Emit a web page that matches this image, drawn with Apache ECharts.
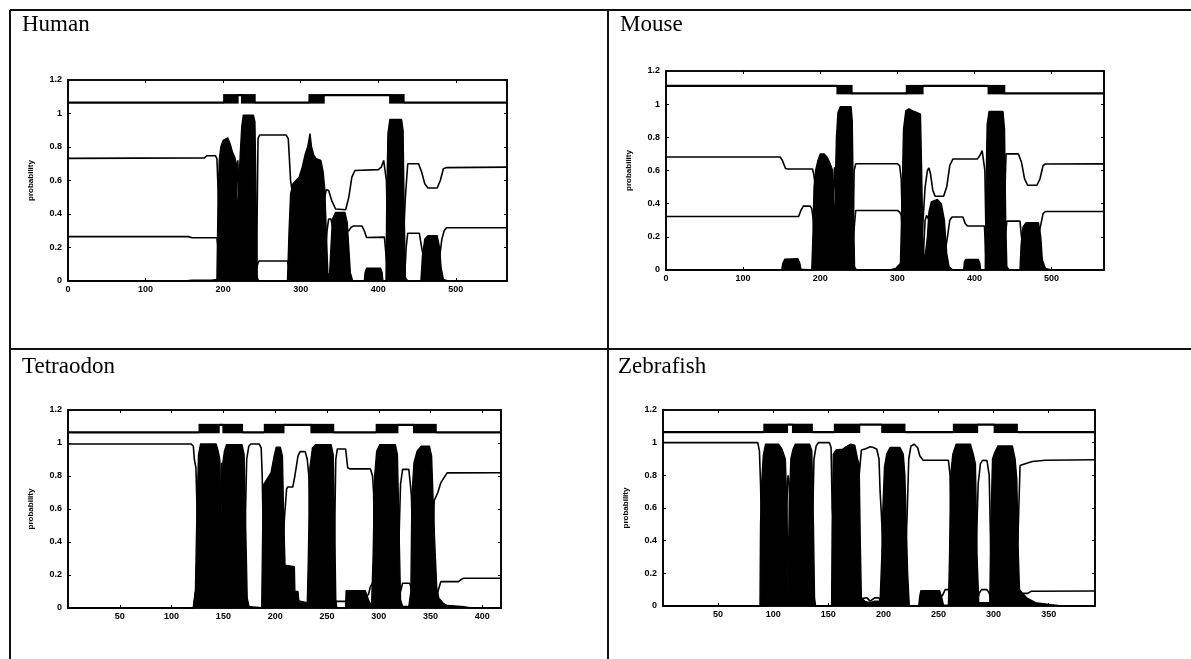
<!DOCTYPE html>
<html>
<head>
<meta charset="utf-8">
<title>Transmembrane topology prediction</title>
<script src="https://cdn.jsdelivr.net/npm/echarts@6/dist/echarts.min.js"></script>
<style>
  html, body { margin: 0; padding: 0; background: #fff; }
  #chart { width: 1191px; height: 659px; }
</style>
</head>
<body>
<div id="chart"></div>
<script>
// ---- Data: residue position vs. posterior probability ----
// Topology track levels (y values of the inside / outside lines above the plot)
const BAND_LO = 1.065;
const BAND_HI = 1.11;
const Y_MAX = 1.2;
const Y_STEP = 0.2;

const panelNames = ['Human', 'Mouse', 'Tetraodon', 'Zebrafish'];
const seqLengths = [566, 568, 418, 392];
const xSteps = [100, 100, 50, 50];

// Human
const humanTM = [[0,0],[150,0],[160,0.005],[185,0.005],[192,0.01],[193.5,0.5],[195,0.72],[197,0.8],[200,0.84],[206,0.855],[209,0.82],[212,0.77],[215,0.74],[217,0.7],[218.5,0.4],[219.5,0.38],[220.5,0.6],[222,0.75],[224,0.92],[226,0.99],[239,0.99],[241,0.95],[242.5,0.5],[244,0.02],[246,0],[283,0],[285,0.3],[287,0.52],[290,0.58],[294,0.6],[298,0.62],[302,0.68],[306,0.76],[309,0.8],[312,0.88],[314,0.8],[317,0.75],[320,0.73],[326,0.72],[329,0.65],[331,0.55],[333,0.3],[335,0.05],[337,0.02],[339,0.2],[341,0.37],[345,0.41],[357,0.41],[360,0.35],[362,0.2],[364,0.05],[367,0],[382,0],[383,0.05],[385,0.076],[403,0.076],[405,0.05],[406,0],[410,0],[411,0.5],[412.5,0.88],[415,0.965],[430,0.965],[432,0.9],[433.5,0.4],[435,0.02],[438,0],[455,0],[457,0.15],[460,0.25],[464,0.27],[476,0.27],[479,0.2],[481,0.08],[484,0.01],[490,0],[566,0]];
const humanInside = [[0,0.732],[176,0.735],[179,0.748],[190,0.748],[192,0.73],[193.5,0.55],[196,0.3],[205,0.15],[215,0.3],[219,0.72],[222,0.3],[235,0.01],[243,0.05],[245,0.85],[247,0.872],[281,0.872],[284,0.85],[287,0.6],[290,0.5],[295,0.3],[310,0.1],[325,0.3],[331,0.5],[333,0.545],[336,0.54],[340,0.48],[345,0.43],[358,0.425],[362,0.5],[366,0.62],[370,0.66],[400,0.665],[404,0.68],[407,0.72],[409,0.71],[410.5,0.6],[413,0.1],[430,0.02],[435,0.5],[438,0.70],[452,0.70],[456,0.65],[460,0.58],[464,0.555],[476,0.555],[480,0.6],[484,0.67],[488,0.677],[566,0.68]];
const humanOutside = [[0,0.265],[155,0.265],[160,0.258],[192,0.258],[193.5,0.2],[196,0.05],[200,0.01],[240,0.01],[243,0.08],[246,0.119],[283,0.119],[285,0.08],[289,0.02],[330,0.05],[334,0.3],[336,0.37],[339,0.37],[342,0.3],[362,0.3],[365,0.32],[368,0.328],[379,0.328],[382,0.3],[385,0.26],[408,0.262],[410,0.27],[411,0.1],[413,0.02],[434,0.02],[436,0.2],[438,0.285],[453,0.285],[456,0.2],[460,0.1],[478,0.1],[482,0.25],[485,0.3],[488,0.318],[566,0.318]];
const humanTopo = [['lo',0,200],['tm',200,220],['hi',220,223],['tm',223,242],['lo',242,310],['tm',310,331],['hi',331,414],['tm',414,434],['lo',434,566]];

// Mouse
const mouseTM = [[0,0],[150,0],[151.5,0.04],[154,0.065],[171,0.068],[173.5,0.04],[175,0.005],[189,0],[190.5,0.2],[192,0.5],[194,0.6],[197,0.66],[200,0.7],[205,0.70],[209,0.68],[213,0.64],[216,0.6],[217.5,0.35],[218.5,0.22],[219.5,0.5],[221,0.8],[223,0.95],[226,0.985],[240,0.985],[241.5,0.9],[243,0.4],[244.5,0.02],[247,0],[290,0],[298,0.01],[304,0.04],[306,0.4],[308,0.85],[311,0.96],[315,0.972],[320,0.96],[325,0.95],[330,0.94],[331.5,0.6],[333,0.2],[335,0.04],[337,0.03],[339,0.2],[341,0.35],[344,0.41],[352,0.425],[357,0.4],[361,0.3],[364,0.1],[367,0.02],[372,0],[386,0],[387,0.05],[389,0.064],[405,0.064],[407,0.04],[408,0],[414,0],[415,0.5],[416.5,0.88],[419,0.956],[437,0.956],[439,0.85],[440.5,0.3],[442,0.02],[445,0],[459,0],[460.5,0.15],[463,0.26],[467,0.285],[483,0.285],[486,0.2],[488,0.06],[492,0.01],[500,0],[568,0]];
const mouseInside = [[0,0.681],[148,0.681],[151,0.66],[155,0.612],[158,0.609],[190,0.609],[191.5,0.58],[193,0.53],[196,0.3],[200,0.25],[215,0.3],[218.5,0.62],[221,0.3],[235,0.01],[242,0.02],[244,0.6],[246,0.641],[300,0.641],[303,0.63],[305,0.55],[307,0.2],[320,0.02],[332,0.2],[336,0.5],[339,0.6],[341,0.615],[343,0.58],[346,0.48],[349,0.445],[360,0.445],[364,0.5],[368,0.63],[372,0.669],[404,0.67],[407,0.69],[410,0.72],[412,0.71],[413.5,0.6],[415,0.2],[430,0.02],[439,0.4],[441,0.70],[457,0.70],[461,0.65],[465,0.55],[469,0.511],[481,0.511],[485,0.55],[489,0.63],[492,0.639],[568,0.64]];
const mouseOutside = [[0,0.323],[172,0.323],[175,0.36],[178,0.385],[187,0.385],[189,0.37],[191,0.3],[194,0.1],[200,0.02],[240,0.02],[243,0.2],[246,0.359],[300,0.359],[303,0.35],[305,0.33],[307,0.2],[311,0.02],[333,0.02],[336,0.3],[338,0.33],[341,0.3],[346,0.1],[360,0.05],[365,0.2],[368,0.3],[371,0.32],[385,0.32],[388,0.28],[391,0.265],[413,0.265],[414.5,0.1],[416,0.02],[438,0.02],[440,0.2],[442,0.295],[459,0.295],[461,0.2],[465,0.1],[480,0.1],[485,0.25],[489,0.34],[492,0.353],[568,0.353]];
const mouseTopo = [['hi',0,221],['tm',221,242],['lo',242,311],['tm',311,334],['hi',334,417],['tm',417,440],['lo',440,568]];

// Tetraodon
const tetraTM = [[0,0],[121,0],[122,0.05],[123,0.1],[124.5,0.6],[126,0.93],[128,0.994],[143,0.994],[145,0.95],[146.5,0.9],[147.5,0.5],[148,0.12],[148.5,0.5],[149.5,0.88],[151,0.95],[153,0.99],[168,0.99],[170,0.93],[171.5,0.5],[173,0.06],[175,0],[187,0],[188,0.5],[189,0.75],[192,0.78],[196,0.82],[199,0.92],[201,0.975],[205,0.975],[207,0.92],[208,0.6],[209.5,0.26],[211,0.25],[218.5,0.25],[219,0.1],[222,0.1],[223,0.03],[231,0.03],[232,0.3],[233.5,0.85],[236,0.97],[239,0.99],[254,0.99],[256,0.93],[257.5,0.5],[258.5,0.05],[259.5,0],[268,0],[268.5,0.105],[287,0.105],[290,0.05],[293,0.01],[294.5,0.3],[296,0.8],[298,0.95],[301,0.99],[316,0.99],[318,0.93],[319.5,0.5],[321,0.05],[323,0.01],[329,0.01],[331,0.1],[332,0.68],[334,0.88],[337,0.95],[341,0.98],[349,0.98],[351,0.92],[352.5,0.65],[354,0.4],[356,0.12],[358,0.06],[362,0.03],[366,0.015],[380,0.01],[390,0],[418,0]];
const tetraInside = [[0,0.994],[119,0.994],[121,0.98],[122,0.9],[123.5,0.85],[125,0.5],[135,0.01],[146,0.2],[148,0.88],[150,0.3],[160,0.01],[170,0.2],[172.5,0.9],[174.5,0.98],[176.5,0.994],[184.5,0.994],[186.5,0.97],[187.5,0.8],[189,0.25],[200,0.05],[207,0.3],[209,0.55],[211,0.72],[212,0.733],[217,0.733],[219,0.8],[222,0.92],[224,0.948],[229,0.948],[231,0.9],[232.5,0.8],[234,0.3],[250,0.01],[257,0.3],[258.5,0.9],[260,0.964],[268,0.964],[270,0.85],[272,0.843],[292,0.843],[294,0.8],[295,0.7],[296,0.3],[310,0.01],[319,0.3],[321,0.75],[323,0.84],[329,0.84],[330.5,0.75],[331.5,0.68],[333,0.3],[345,0.01],[352,0.3],[353.5,0.65],[357,0.7],[360,0.76],[363,0.79],[366,0.819],[418,0.82]];
const tetraOutside = [[0,0],[121,0],[123,0.1],[130,0.02],[146,0.05],[148,0.12],[150,0.05],[170,0.01],[190,0],[205,0.01],[220,0.05],[224,0.04],[232,0.03],[250,0.02],[257,0.03],[259,0.04],[268,0.04],[270,0.03],[290,0.08],[292,0.13],[294,0.15],[296,0.1],[300,0.02],[318,0.02],[321,0.1],[323,0.15],[330,0.15],[332,0.1],[335,0.02],[355,0.05],[358,0.12],[360,0.16],[377,0.16],[380,0.175],[382,0.18],[418,0.18]];
const tetraTopo = [['lo',0,126],['tm',126,146.5],['hi',146.5,149],['tm',149,169],['lo',169,189],['tm',189,209],['hi',209,234],['tm',234,257],['lo',257,297],['tm',297,319],['hi',319,333],['tm',333,356],['lo',356,418]];

// Zebrafish
const zebraTM = [[0,0],[88,0],[88.5,0.5],[89.5,0.75],[91,0.92],[93,0.99],[105,0.99],[108,0.96],[111,0.9],[112.5,0.6],[113.5,0.1],[114.5,0.6],[116,0.9],[118,0.96],[120,0.99],[133,0.99],[135,0.95],[136.5,0.5],[137.5,0.05],[138.5,0],[153,0],[153.5,0.5],[154.5,0.93],[157,0.955],[163,0.96],[166,0.975],[170,0.99],[174,0.985],[176.5,0.9],[178,0.87],[179,0.4],[180,0.05],[183,0.03],[188,0.02],[192,0.03],[197,0.03],[198.5,0.3],[199.5,0.6],[201,0.85],[203,0.93],[206,0.97],[215,0.97],[218,0.93],[219.5,0.8],[220.5,0.55],[222,0.2],[223.5,0],[232,0],[233,0.06],[234,0.094],[251,0.094],[253,0.05],[254.5,0.005],[259,0.005],[260,0.3],[261,0.8],[263,0.93],[266,0.99],[279,0.99],[281.5,0.93],[283.5,0.87],[285,0.3],[286.5,0.02],[296.5,0.02],[297.5,0.5],[299,0.9],[301,0.94],[304,0.98],[317,0.98],[319.5,0.9],[321,0.78],[322.5,0.3],[323.5,0.1],[326,0.08],[330,0.05],[338,0.02],[350,0.01],[362,0],[392,0]];
const zebraInside = [[0,1.0],[86,1.0],[87.5,0.95],[88.5,0.75],[90,0.3],[100,0.01],[111,0.3],[113,0.75],[113.5,0.8],[114.5,0.75],[116,0.3],[125,0.01],[135,0.3],[137,0.9],[139,0.98],[141,1.0],[151,1.0],[152.5,0.97],[153.5,0.6],[160,0.02],[176,0.3],[178,0.8],[180,0.955],[184,0.963],[188,0.975],[191,0.97],[194,0.96],[196,0.9],[197,0.7],[198,0.58],[200,0.3],[210,0.01],[220,0.3],[221.5,0.55],[223,0.9],[225,0.98],[228,0.99],[231,0.97],[233,0.92],[236,0.892],[259,0.892],[260.5,0.8],[262,0.3],[272,0.01],[284,0.3],[286,0.75],[288,0.87],[290,0.892],[294,0.89],[296,0.8],[297.5,0.3],[310,0.01],[322,0.4],[324,0.86],[328,0.87],[335,0.885],[347,0.892],[392,0.895]];
const zebraOutside = [[0,0],[88,0],[100,0.01],[112,0.05],[113.5,0.1],[115,0.05],[130,0.01],[138,0],[152,0],[160,0.01],[178,0.02],[180,0.045],[185,0.05],[188,0.03],[192,0.05],[196,0.05],[198,0.02],[222,0],[232,0],[235,0.02],[250,0.03],[254,0.07],[256,0.1],[259,0.1],[261,0.02],[285,0.02],[287,0.08],[289,0.1],[294,0.1],[296,0.08],[298,0.02],[322,0.02],[324,0.06],[326,0.077],[331,0.077],[334,0.09],[392,0.092]];
const zebraTopo = [['lo',0,91],['tm',91,113.5],['hi',113.5,117],['tm',117,136],['lo',136,155],['tm',155,179],['hi',179,198],['tm',198,220],['lo',220,263],['tm',263,286],['hi',286,300],['tm',300,322],['lo',322,392]];

const tmSets = [humanTM, mouseTM, tetraTM, zebraTM];
const insideSets = [humanInside, mouseInside, tetraInside, zebraInside];
const outsideSets = [humanOutside, mouseOutside, tetraOutside, zebraOutside];
const topoSets = [humanTopo, mouseTopo, tetraTopo, zebraTopo];

// ---- Layout (pixels) ----
const grids = [
  { left: 68,  top: 80,  width: 439, height: 201 },
  { left: 666, top: 71,  width: 438, height: 199 },
  { left: 68,  top: 410, width: 433, height: 198 },
  { left: 663, top: 410, width: 432, height: 196 }
];
const titlePos = [
  { left: 22,  top: 13 },
  { left: 620, top: 13 },
  { left: 22,  top: 355 },
  { left: 618, top: 355 }
];
const hideZeroLabel = [false, false, true, true];

const INK = '#000';
const tickFont = { fontSize: 9, fontWeight: 'bold', color: INK, fontFamily: 'Liberation Sans, Arial, sans-serif' };

const option = {
  backgroundColor: '#fff',
  animation: false,
  title: [],
  grid: [],
  xAxis: [],
  yAxis: [],
  series: [],
  graphic: []
};

panelNames.forEach((name, i) => {
  const g = grids[i];
  option.title.push({
    text: name,
    left: titlePos[i].left,
    top: titlePos[i].top,
    padding: 0,
    textStyle: { fontFamily: 'Liberation Serif, Times New Roman, serif', fontSize: 23, fontWeight: 'normal', color: INK }
  });
  option.grid.push({
    left: g.left, top: g.top, width: g.width, height: g.height,
    show: true, borderColor: INK, borderWidth: 1.6, backgroundColor: 'transparent'
  });

  const xBase = {
    type: 'value', gridIndex: i, min: 0, max: seqLengths[i], interval: xSteps[i],
    splitLine: { show: false },
    axisLine: { show: true, onZero: false, lineStyle: { color: INK, width: 1.6 } },
    axisTick: { show: true, inside: true, length: 3, lineStyle: { color: INK } }
  };
  option.xAxis.push(Object.assign({}, xBase, {
    position: 'bottom',
    axisLabel: Object.assign({ margin: 4, showMaxLabel: false, showMinLabel: !hideZeroLabel[i] }, tickFont)
  }));
  option.xAxis.push(Object.assign({}, xBase, {
    position: 'top',
    axisLabel: { show: false }
  }));

  const yBase = {
    type: 'value', gridIndex: i, min: 0, max: Y_MAX, interval: Y_STEP,
    splitLine: { show: false },
    axisLine: { show: true, onZero: false, lineStyle: { color: INK, width: 1.6 } },
    axisTick: { show: true, inside: true, length: 3, lineStyle: { color: INK } }
  };
  option.yAxis.push(Object.assign({}, yBase, {
    position: 'left',
    name: 'probability',
    nameLocation: 'middle',
    nameGap: 33,
    nameTextStyle: { fontSize: 8, fontWeight: 'bold', color: INK, fontFamily: 'Liberation Sans, Arial, sans-serif' },
    axisLabel: Object.assign({ margin: 6, formatter: v => String(Math.round(v * 10) / 10) }, tickFont)
  }));
  option.yAxis.push(Object.assign({}, yBase, {
    position: 'right',
    axisLabel: { show: false }
  }));

  const xi = i * 2, yi = i * 2;

  // Transmembrane probability (filled)
  option.series.push({
    type: 'line', xAxisIndex: xi, yAxisIndex: yi, data: tmSets[i],
    showSymbol: false, silent: true, z: 2,
    lineStyle: { color: INK, width: 1.4 },
    areaStyle: { color: INK, opacity: 1 }
  });
  // Inside / outside probability curves
  [insideSets[i], outsideSets[i]].forEach(d => {
    option.series.push({
      type: 'line', xAxisIndex: xi, yAxisIndex: yi, data: d,
      showSymbol: false, silent: true, z: 3,
      lineStyle: { color: INK, width: 1.6 }
    });
  });

  // Topology track: loops as lines on two levels, helices as filled boxes
  const topo = topoSets[i];
  const trackLine = [];
  const helixBoxes = [];
  topo.forEach(seg => {
    if (seg[0] === 'tm') {
      helixBoxes.push([seg[1], seg[2], BAND_LO, BAND_HI]);
    } else {
      const lvl = seg[0] === 'hi' ? BAND_HI : BAND_LO;
      trackLine.push([seg[1], lvl], [seg[2], lvl]);
    }
  });
  option.series.push({
    type: 'line', xAxisIndex: xi, yAxisIndex: yi, data: trackLine,
    showSymbol: false, silent: true, z: 3,
    lineStyle: { color: INK, width: 2.2 }
  });
  option.series.push({
    type: 'custom', xAxisIndex: xi, yAxisIndex: yi, data: helixBoxes,
    silent: true, z: 4,
    encode: { x: [0, 1], y: [2, 3] },
    renderItem: (params, api) => {
      const p0 = api.coord([api.value(0), api.value(3)]);
      const p1 = api.coord([api.value(1), api.value(2)]);
      return {
        type: 'rect',
        shape: { x: p0[0], y: p0[1] - 1, width: p1[0] - p0[0], height: p1[1] - p0[1] + 2 },
        style: { fill: INK }
      };
    }
  });
});

// Table rules separating the four panels
const rule = { stroke: '#111', lineWidth: 2 };
option.graphic = [
  { type: 'line', shape: { x1: 10, y1: 10, x2: 1191, y2: 10 }, style: rule, silent: true },
  { type: 'line', shape: { x1: 10, y1: 10, x2: 10, y2: 659 }, style: rule, silent: true },
  { type: 'line', shape: { x1: 608, y1: 10, x2: 608, y2: 659 }, style: rule, silent: true },
  { type: 'line', shape: { x1: 10, y1: 349, x2: 1191, y2: 349 }, style: rule, silent: true }
];

const chart = echarts.init(document.getElementById('chart'), null, { renderer: 'canvas' });
chart.setOption(option);
</script>
</body>
</html>
